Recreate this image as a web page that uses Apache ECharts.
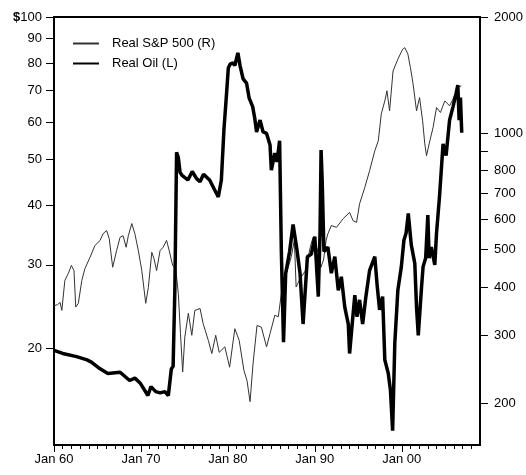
<!DOCTYPE html>
<html><head><meta charset="utf-8">
<script src="https://cdn.jsdelivr.net/npm/echarts@6/dist/echarts.min.js"></script>
<style>html,body{margin:0;padding:0;background:#fff}#c{width:526px;height:475px}</style>
</head><body><div id="c"></div>
<script>
// Real Oil (left axis, $)
const oilYears = [1960.0,1961.0,1962.6,1963.8,1964.3,1965.3,1966.2,1967.6,1968.7,1969.3,1969.9,1970.8,1971.15,1971.7,1972.2,1972.75,1973.15,1973.5,1973.7,1973.9,
1974.1,1974.3,1974.5,1974.7,1975.4,1975.9,1976.4,1976.8,1977.2,1977.9,1978.5,1978.9,1979.25,1979.55,1979.8,1980.05,1980.25,1980.6,1980.8,1981.15,
1981.4,1981.75,1982.15,1982.45,1982.85,1983.1,1983.3,1983.7,1984.05,1984.45,1984.85,1985.0,1985.4,1985.65,1985.95,1986.15,1986.4,1986.65,1987.1,1987.5,
1987.9,1988.3,1988.65,1989.15,1989.6,1990.0,1990.4,1990.6,1990.72,1990.85,1991.05,1991.5,1991.9,1992.3,1992.7,1993.05,1993.45,1993.85,1994.0,1994.3,
1994.6,1994.85,1995.15,1995.5,1995.85,1996.3,1996.9,1997.15,1997.45,1997.8,1998.05,1998.45,1998.7,1998.95,1999.2,1999.55,1999.95,2000.25,2000.5,2000.75,
2001.1,2001.5,2001.7,2001.9,2002.25,2002.45,2002.75,2003.0,2003.15,2003.4,2003.8,2004.0,2004.35,2004.75,2005.1,2005.5,2005.9,2006.25,2006.45,2006.6,
2006.75,2006.9];
const oilValues = [19.8,19.5,19.2,18.9,18.7,18.1,17.7,17.8,17.1,17.3,16.9,15.9,16.6,16.2,16.1,16.2,15.9,18.1,18.3,26.5,
51.8,50.5,47,46.4,45.3,47.2,45.6,44.9,46.6,45.3,43.1,41.7,45.3,58,67,78,79.5,80,79,84,
79,74,72.5,67.4,64.7,61,57.2,60.6,57.2,56.8,53.7,47.5,51.6,49.5,54.8,32,20.6,28.8,32,36.5,
32.7,28.8,22.5,31.2,31.6,34.4,25.7,35,52.4,45,32,32.7,28.8,31.2,26.5,28.3,24.4,22.5,19.5,22.5,
25.9,23.3,25.3,22.5,25.5,29.2,31.2,27.4,24.1,25.7,18.9,17.7,16.3,13.4,20.5,26.5,29.7,33.8,35,38.5,
33,30.2,24.4,21.3,26.5,29.7,31,38.2,31,32.7,30,35,42,54,51,60.6,64.7,69,71.8,60.6,
67.6,57];
// Real S&P 500 (right axis)
const spYears = [1960.0,1960.4,1960.7,1960.9,1961.25,1961.65,1962.0,1962.3,1962.5,1962.8,1963.2,1963.55,1964.15,1964.7,1965.3,1965.65,1966.05,1966.35,1966.75,1967.2,
1967.6,1967.95,1968.3,1968.55,1968.95,1969.3,1969.7,1970.1,1970.55,1970.85,1971.25,1971.5,1971.8,1972.2,1972.55,1972.95,1973.25,1973.65,1974.0,1974.3,
1974.55,1974.8,1975.05,1975.45,1975.85,1976.2,1976.8,1977.15,1977.75,1978.15,1978.6,1979.0,1979.65,1980.2,1980.8,1981.3,1981.85,1982.2,1982.55,1982.9,
1983.35,1983.85,1984.45,1984.85,1985.4,1985.8,1986.35,1986.75,1987.3,1987.65,1987.85,1988.3,1988.9,1989.5,1989.8,1990.3,1990.7,1991.0,1991.3,1991.5,
1991.9,1992.5,1993.25,1994.0,1994.4,1994.8,1995.15,1995.75,1996.3,1996.9,1997.3,1997.65,1998.05,1998.3,1998.6,1999.0,1999.55,2000.1,2000.35,2000.7,
2001.0,2001.3,2001.7,2002.05,2002.4,2002.65,2002.85,2003.15,2003.6,2004.0,2004.45,2004.95,2005.5,2005.9,2006.45,2006.85];
const spValues = [358,360,365,348,416,434,455,441,355,363,416,446,478,512,528,550,560,534,450,497,
538,543,507,543,584,550,497,441,363,399,492,474,441,497,507,528,497,455,446,385,
303,241,297,342,300,348,352,322,291,269,300,271,280,248,312,291,243,229,202,254,
318,315,280,303,338,335,416,434,480,530,400,420,440,510,538,500,450,470,528,549,
577,571,601,624,594,588,657,724,800,901,956,1123,1213,1288,1143,1450,1555,1650,1666,1605,
1479,1343,1143,1237,1077,939,875,939,1035,1166,1132,1213,1178,1226,1313,1327];

const xLabelYears = [1960,1970,1980,1990,2000];
const xMinorYears = [];
for (let y = 1960; y <= 2008; y++) xMinorYears.push(y);
const leftTicks = [20,30,40,50,60,70,80,90,100];
const rightTicks = [200,300,400,500,600,700,800,900,1000,2000];
const rightLabels = [200,300,400,500,600,700,800,1000,2000];

const zip = (a, b) => a.map((v, i) => [v, b[i]]);
const FONT = 'Liberation Sans, Arial, sans-serif';
const gridRect = {left: 54, right: 46, top: 17, bottom: 30};

const chart = echarts.init(document.getElementById('c'));
chart.setOption({
  animation: false,
  backgroundColor: '#fff',
  textStyle: {fontFamily: FONT},
  grid: [
    Object.assign({show: true, borderColor: '#000', borderWidth: 2, backgroundColor: 'transparent'}, gridRect),
    Object.assign({show: false}, gridRect)
  ],
  legend: {
    orient: 'vertical', left: 72, top: 37, padding: 0,
    itemWidth: 26, itemHeight: 14, itemGap: 7,
    itemStyle: {opacity: 0},
    textStyle: {fontSize: 13, color: '#000', fontFamily: FONT, padding: [0, 0, 0, 8]},
    data: ['Real S&P 500 (R)', 'Real Oil (L)']
  },
  xAxis: [
    {
      type: 'value', gridIndex: 0, min: 1960, max: 2009, position: 'bottom',
      axisLine: {show: true, lineStyle: {color: '#000', width: 2}},
      axisTick: {show: true, customValues: xLabelYears, length: 7, lineStyle: {color: '#000', width: 1}},
      axisLabel: {customValues: xLabelYears, formatter: v => 'Jan ' + String(v).slice(2), color: '#000', fontSize: 13, margin: 8, fontFamily: FONT},
      splitLine: {show: false}
    },
    {
      type: 'value', gridIndex: 1, min: 1960, max: 2009, position: 'bottom',
      axisLine: {show: false},
      axisTick: {show: true, customValues: xMinorYears, length: 4, lineStyle: {color: '#000', width: 1}},
      axisLabel: {show: false},
      splitLine: {show: false}
    }
  ],
  yAxis: [
    {
      type: 'log', logBase: 10, gridIndex: 0, min: 12.5, max: 100, position: 'left',
      axisLine: {show: true, lineStyle: {color: '#000', width: 2}},
      axisTick: {show: true, customValues: leftTicks, length: 8, lineStyle: {color: '#000'}},
      axisLabel: {
        customValues: leftTicks, color: '#000', fontSize: 13, margin: 12, fontFamily: FONT,
        formatter: v => (Math.round(v) === 100 ? '{b|$}100' : String(Math.round(v))),
        rich: {b: {fontWeight: 'bold', fontSize: 13, color: '#000', fontFamily: FONT}}
      },
      splitLine: {show: false}
    },
    {
      type: 'log', logBase: 10, gridIndex: 0, min: 156, max: 2000, position: 'right',
      axisLine: {show: true, lineStyle: {color: '#000', width: 2}},
      axisTick: {show: true, customValues: rightTicks, length: 8, lineStyle: {color: '#000'}},
      axisLabel: {customValues: rightLabels, color: '#000', fontSize: 13, margin: 14, fontFamily: FONT,
        formatter: v => String(Math.round(v))},
      splitLine: {show: false}
    },
    {type: 'value', gridIndex: 1, min: 0, max: 1, show: false}
  ],
  series: [
    {
      name: 'Real S&P 500 (R)', type: 'line', xAxisIndex: 0, yAxisIndex: 1,
      data: zip(spYears, spValues), symbol: 'none', showSymbol: false,
      lineStyle: {color: '#333', width: 1}, itemStyle: {color: '#333'}
    },
    {
      name: 'Real Oil (L)', type: 'line', xAxisIndex: 0, yAxisIndex: 0,
      data: zip(oilYears, oilValues), symbol: 'none', showSymbol: false,
      lineStyle: {color: '#000', width: 3.5}, itemStyle: {color: '#000'}
    }
  ]
});
</script>
</body></html>
